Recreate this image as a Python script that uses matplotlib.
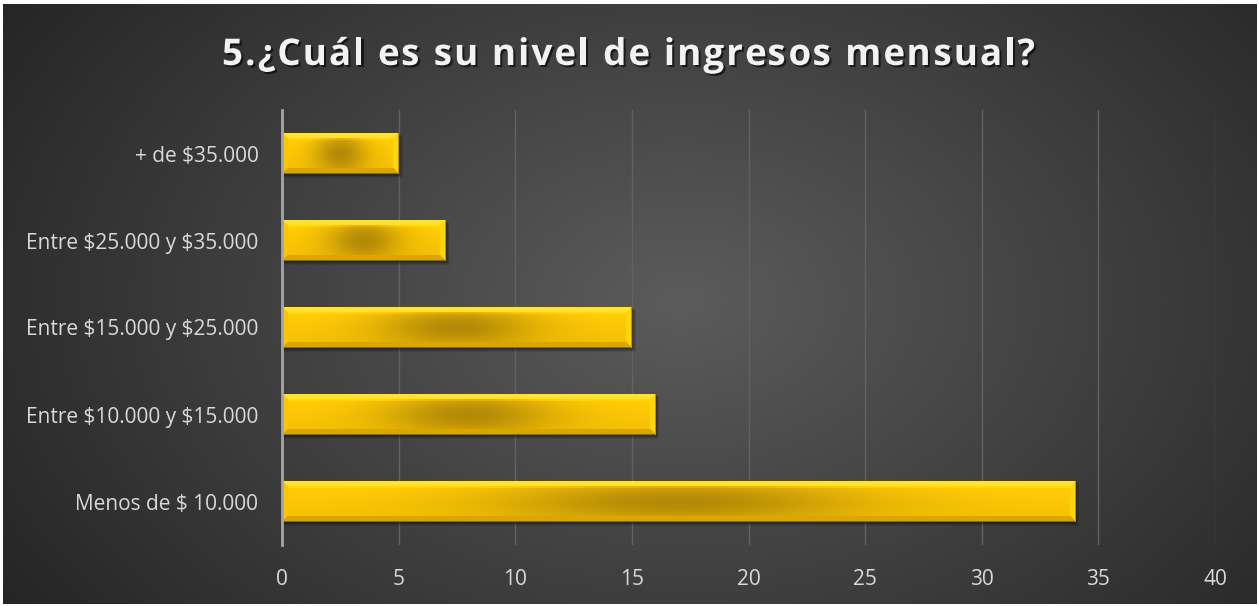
import numpy as np
import matplotlib as mpl
mpl.use('Agg')
import matplotlib.pyplot as plt
from matplotlib import patheffects

categorias = ['Menos de $ 10.000', 'Entre $10.000 y $15.000', 'Entre $15.000 y $25.000',
              'Entre $25.000 y $35.000', '+ de $35.000']
respuestas = [34, 16, 15, 7, 5]
ticks_x = [0, 5, 10, 15, 20, 25, 30, 35, 40]
titulo = '5.¿Cuál es su nivel de ingresos mensual?'

ANCHO, ALTO = 1259, 606
plt.rcParams['font.family'] = ['Open Sans', 'DejaVu Sans']
plt.rcParams['text.parse_math'] = False

fig = plt.figure(figsize=(ANCHO / 100, ALTO / 100), dpi=100, facecolor='white')

# fondo oscuro con degradado radial
fondo = fig.add_axes([3 / ANCHO, 2 / ALTO, 1 - 5 / ANCHO, 1 - 6 / ALTO], zorder=-10)
yy, xx = np.mgrid[0:ALTO, 0:ANCHO]
d = np.sqrt(((xx - 680) / 760) ** 2 + ((yy - 300) / 520) ** 2)
gris = np.clip(0.36 - 0.20 * d, 0.14, 0.36)
fondo.imshow(np.dstack([gris, gris, gris]), aspect='auto', extent=(0, 1, 0, 1))
fondo.axis('off')

ax = fig.add_axes([282 / ANCHO, 1 - 545 / ALTO, 933 / ANCHO, 435 / ALTO])
ax.set_facecolor('none')

pos = np.arange(len(categorias))
alto_barra = 0.48
barras = ax.barh(pos, respuestas, height=alto_barra, color='#F5C000', zorder=3)

# sombra difusa bajo cada barra
for k in range(4):
    ax.barh(pos - 0.015 - 0.008 * k, np.array(respuestas) + 0.04 + 0.04 * k,
            height=alto_barra, left=0.02, color='black', alpha=0.10, zorder=2)


def textura_oro(w, h, s=6):
    y, x = np.mgrid[0:h, 0:w].astype(float)
    cx, cy = (w - 1) / 2, (h - 1) / 2
    # cara central: dorado con zona oscura en el centro
    dx = (x - cx) / (w / 2)
    dy = (y - cy) / (h / 2)
    oscuro = 0.88 * np.exp(-(dx ** 2) / (2 * 0.32 ** 2) - (dy ** 2) / (2 * 0.7 ** 2))
    base = np.array([1.0, 0.79, 0.02])
    sombra = np.array([0.67, 0.51, 0.03])
    img = base * (1 - oscuro[..., None]) + sombra * oscuro[..., None]
    # banda brillante arriba y algo más oscura abajo
    img *= (1.03 - 0.08 * (y / h))[..., None]
    fila = (y >= s) & (y < s + 2)
    img[fila] = np.clip(img[fila] * 1.08, 0, 1)
    # biseles
    t, b, l, r = y, h - 1 - y, x, w - 1 - x
    m = np.minimum(np.minimum(t, b), np.minimum(l, r))
    bisel = m < s
    cual = np.argmin(np.stack([t, b, l, r]), axis=0)
    colores = [np.array([1.0, 0.89, 0.20]),
               np.array([0.87, 0.65, 0.0]),
               np.array([0.98, 0.78, 0.02]),
               np.array([1.0, 0.84, 0.05])]
    for k, c in enumerate(colores):
        img[bisel & (cual == k)] = c
    img[0] = [0.95, 0.75, 0.0]
    img[h - 1] = [0.55, 0.42, 0.0]
    img[:, w - 1] = [0.78, 0.60, 0.0]
    return np.clip(img, 0, 1)


px_por_unidad = 933 / 40
px_por_cat = 435 / 5
for barra, v in zip(barras, respuestas):
    w = max(int(round(v * px_por_unidad)), 14)
    h = int(round(alto_barra * px_por_cat))
    y0 = barra.get_y()
    im = ax.imshow(textura_oro(w, h), extent=(0, v, y0, y0 + alto_barra),
                   aspect='auto', interpolation='bilinear', zorder=4)
    im.set_clip_path(barra)

ax.set_xlim(0, 40)
ax.set_ylim(-0.5, len(categorias) - 0.5)
ax.set_xticks(ticks_x)
ax.set_yticks(pos)
ax.set_yticklabels(categorias)
ax.tick_params(axis='both', length=0, colors='#D9D9D9', labelsize=15)
ax.tick_params(axis='x', pad=17)
ax.tick_params(axis='y', pad=17)
ax.grid(axis='x', color='#626262', linewidth=1.0, zorder=0)
ax.set_axisbelow(True)
for lado in ['top', 'right', 'bottom']:
    ax.spines[lado].set_visible(False)
ax.spines['left'].set_color('#A6A6A6')
ax.spines['left'].set_linewidth(2)
ax.spines['left'].set_zorder(5)

# título con espaciado entre letras
renderer = fig.canvas.get_renderer()
tam_titulo = 26.5


def ancho(texto):
    t = fig.text(0, 0, texto, fontsize=tam_titulo, fontweight='bold')
    wpx = t.get_window_extent(renderer).width
    t.remove()
    return wpx


ref = ancho('x')
x_ini, x_fin = 222, 1035
espacio = (x_fin - x_ini - ancho(titulo)) / (len(titulo) - 1)
sombra_txt = [patheffects.withSimplePatchShadow(offset=(1.5, -1.5), shadow_rgbFace='black', alpha=0.6)]
for i, ch in enumerate(titulo):
    if ch == ' ':
        continue
    xi = x_ini + (ancho(titulo[:i] + 'x') - ref if i else 0) + espacio * i
    fig.text(xi / ANCHO, 1 - 65 / ALTO, ch, fontsize=tam_titulo, fontweight='bold',
             color='#F2F2F2', va='baseline', ha='left', path_effects=sombra_txt)

fig.savefig('out.png', dpi=100, facecolor=fig.get_facecolor())
